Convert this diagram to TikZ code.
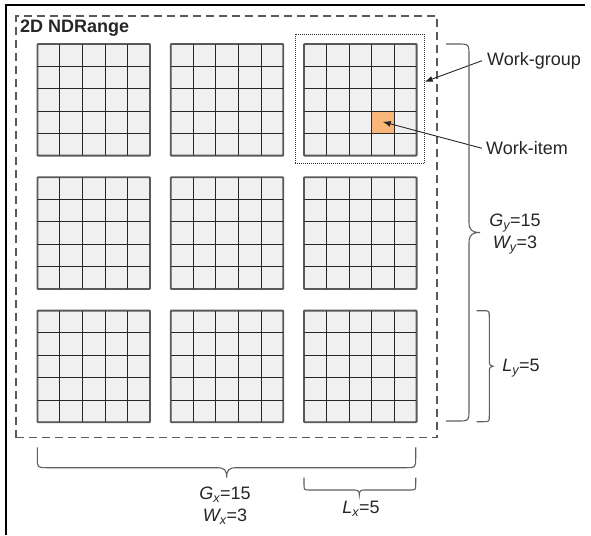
\documentclass[tikz,border=0pt]{standalone}
\usepackage{fontspec}
\setmainfont{Liberation Sans}
\usetikzlibrary{arrows.meta,calc}
\definecolor{cellfill}{RGB}{240,240,240}
\definecolor{itemfill}{RGB}{248,182,122}
\definecolor{txt}{RGB}{38,38,38}
\definecolor{bracecol}{RGB}{95,95,95}
\tikzset{
  wg/.style={draw=black!65, line width=1.2pt, fill=cellfill, minimum width=112pt, minimum height=111pt, inner sep=0pt, rounded corners=0.8pt},
  itembox/.style={fill=itemfill, minimum width=22.4pt, minimum height=22.2pt, inner sep=0pt},
  cellline/.style={draw=black!85, line width=0.9pt},
  outerdash/.style={draw=black!65, line width=1.2pt, dash pattern=on 8pt off 5pt},
  wgdot/.style={draw=black!80, line width=0.6pt, dash pattern=on 1pt off 1pt},
  brc/.style={draw=bracecol, line width=1.1pt},
  lbl/.style={text=txt, font=\fontsize{18}{22}\selectfont, inner sep=0pt},
  arr/.style={draw=black!85, line width=0.9pt, -{Latex[length=8pt,width=6pt]}},
}
\begin{document}
\begin{tikzpicture}[x=1pt,y=-1pt]
\useasboundingbox (0,0) rectangle (591,535);
% frame
\draw[line width=1.5pt] (6,535) -- (6,5) -- (585,5);
% outer NDRange
\node[outerdash, minimum width=421pt, minimum height=421.5pt, inner sep=0pt] (ndr) at (226.5,226.8) {};
\node[lbl, font=\fontsize{18}{22}\selectfont\bfseries, anchor=base west] (ndrl) at (20,33) {2D NDRange};
% work-group box
\node[wgdot, minimum width=129.3pt, minimum height=129.3pt, inner sep=0pt] (wgbox) at (359.7,98.7) {};
% groups
\foreach \r in {0,1,2}{
  \foreach \c in {0,1,2}{
    \pgfmathsetmacro\gx{37.7+133.3*\c+56}
    \pgfmathsetmacro\gy{44.3+133.3*\r+55.5}
    \node[wg] (g\r\c) at (\gx,\gy) {};
  }
}
\node[itembox] (item) at (382.7,121.8) {};
\foreach \r in {0,1,2}{
  \foreach \c in {0,1,2}{
    \foreach \i in {1,2,3,4}{
      \draw[cellline] ($(g\r\c.north west)!\i/5!(g\r\c.north east)$) -- ($(g\r\c.south west)!\i/5!(g\r\c.south east)$);
      \draw[cellline] ($(g\r\c.north west)!\i/5!(g\r\c.south west)$) -- ($(g\r\c.north east)!\i/5!(g\r\c.south east)$);
    }
    \draw[draw=black!65, line width=1.2pt, rounded corners=0.8pt] (g\r\c.north west) rectangle (g\r\c.south east);
  }
}
% labels
\node[lbl, anchor=west] (wgl) at (487,60.7) {Work-group};
\node[lbl, anchor=west] (wil) at (486,148.3) {Work-item};
\node[lbl, align=center] (gyl) at (515,234) {{\itshape G\textsubscript{y}}=15\\{\itshape W\textsubscript{y}}=3};
\node[lbl] (lyl) at (521,368) {{\itshape L\textsubscript{y}}=5};
\node[lbl, align=center] (gxl) at (225,505.5) {{\itshape G\textsubscript{x}}=15\\{\itshape W\textsubscript{x}}=3};
\node[lbl] (lxl) at (361,509) {{\itshape L\textsubscript{x}}=5};
% arrows
\draw[arr] ([xshift=-5pt]wgl.west) -- ($(wgbox.north east)!0.37!(wgbox.south east)$);
\draw[arr] ([xshift=-4pt]wil.west) -- (item.center);
% right braces
\draw[brc] (446,44) -- (457,44) .. controls (469,44) .. (469,56) -- (469,222)
  .. controls (469,230) and (472,232.5) .. (480,232.5)
  .. controls (472,232.5) and (469,235) .. (469,243) -- (469,409)
  .. controls (469,421) .. (457,421) -- (446,421);
\draw[brc] (476.7,310.7) -- (483,310.7) .. controls (489.3,310.7) .. (489.3,317) -- (489.3,361)
  .. controls (489.3,365) and (490.5,366.2) .. (493,366.2)
  .. controls (490.5,366.2) and (489.3,367.4) .. (489.3,371.4) -- (489.3,415.4)
  .. controls (489.3,421.7) .. (483,421.7) -- (476.7,421.7);
% bottom braces
\draw[brc] (37.3,447.3) -- (37.3,457.7) .. controls (37.3,467.7) .. (47.3,467.7) -- (216.7,467.7)
  .. controls (224.7,467.7) and (226.7,470) .. (226.7,477.7)
  .. controls (226.7,470) and (228.7,467.7) .. (236.7,467.7) -- (405.7,467.7)
  .. controls (415.7,467.7) .. (415.7,457.7) -- (415.7,447.3);
\draw[brc] (304,477.7) -- (304,484) .. controls (304,490) .. (310,490) -- (354.3,490)
  .. controls (358,490) and (359.3,491) .. (359.3,495)
  .. controls (359.3,491) and (360.6,490) .. (364.3,490) -- (409.7,490)
  .. controls (415.7,490) .. (415.7,484) -- (415.7,477.7);
\end{tikzpicture}
\end{document}
